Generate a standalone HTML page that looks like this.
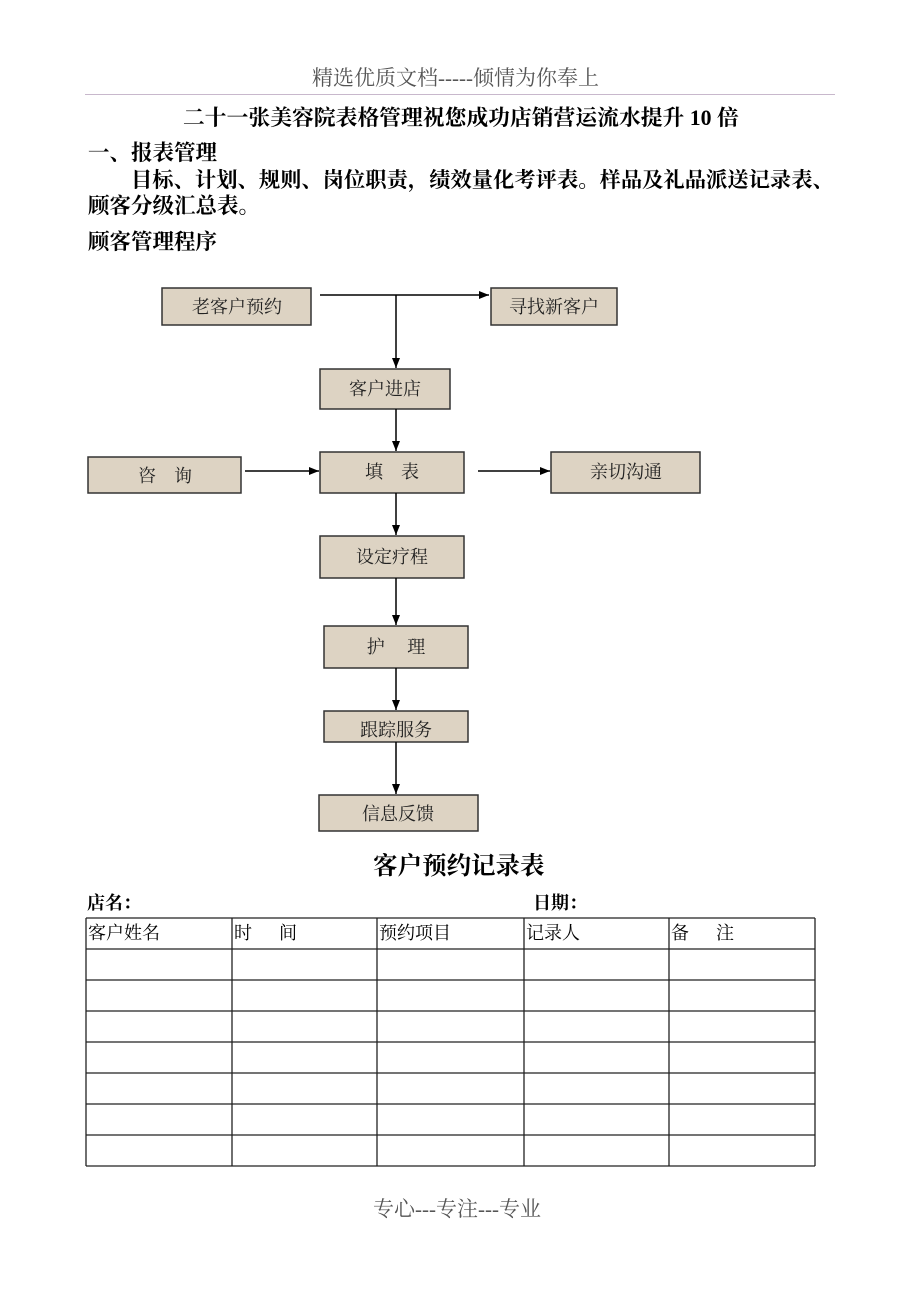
<!DOCTYPE html>
<html><head><meta charset="utf-8"><style>
body{margin:0;width:920px;height:1302px;background:#fff;position:relative;overflow:hidden;font-family:"Liberation Serif","Noto Serif CJK SC",serif;}
.t{position:absolute;white-space:nowrap;line-height:1;color:#000;}
.b{font-weight:bold;}
svg{position:absolute;left:0;top:0;}
</style></head><body>
<div class="t" style="left:312px;top:68px;font-size:21px;color:#555;">精选优质文档-----倾情为你奉上</div>
<div style="position:absolute;left:85px;top:94px;width:750px;height:1px;background:#c8b8cc;"></div>
<div class="t b" style="left:183px;top:108px;font-size:21.8px;">二十一张美容院表格管理祝您成功店销营运流水提升 10 倍</div>
<div class="t b" style="left:88px;top:143px;font-size:21.5px;">一、报表管理</div>
<div class="t b" style="left:131px;top:170px;font-size:21.3px;">目标、计划、规则、岗位职责，绩效量化考评表。样品及礼品派送记录表、</div>
<div class="t b" style="left:88px;top:196px;font-size:21.5px;">顾客分级汇总表。</div>
<div class="t b" style="left:88px;top:232px;font-size:21.5px;">顾客管理程序</div>

<svg width="920" height="1302" xmlns="http://www.w3.org/2000/svg" font-family="Liberation Serif, Noto Serif CJK SC, serif" font-size="18">
<defs><marker id="a" markerWidth="10" markerHeight="8" refX="10" refY="4" orient="auto" markerUnits="userSpaceOnUse"><path d="M0,0L10,4L0,8z" fill="#000"/></marker></defs>
<g fill="#ddd3c3" stroke="#333" stroke-width="1.5">
<rect x="162" y="288" width="149" height="37"/>
<rect x="491" y="288" width="126" height="37"/>
<rect x="320" y="369" width="130" height="40"/>
<rect x="88" y="457" width="153" height="36"/>
<rect x="320" y="452" width="144" height="41"/>
<rect x="551" y="452" width="149" height="41"/>
<rect x="320" y="536" width="144" height="42"/>
<rect x="324" y="626" width="144" height="42"/>
<rect x="324" y="711" width="144" height="31"/>
<rect x="319" y="795" width="159" height="36"/>
</g>
<g stroke="#000" stroke-width="1.5" fill="none">
<line x1="320" y1="295" x2="489" y2="295" marker-end="url(#a)"/>
<line x1="396" y1="295" x2="396" y2="368" marker-end="url(#a)"/>
<line x1="396" y1="409" x2="396" y2="451" marker-end="url(#a)"/>
<line x1="245" y1="471" x2="319" y2="471" marker-end="url(#a)"/>
<line x1="478" y1="471" x2="550" y2="471" marker-end="url(#a)"/>
<line x1="396" y1="493" x2="396" y2="535" marker-end="url(#a)"/>
<line x1="396" y1="578" x2="396" y2="625" marker-end="url(#a)"/>
<line x1="396" y1="668" x2="396" y2="710" marker-end="url(#a)"/>
<line x1="396" y1="742" x2="396" y2="794" marker-end="url(#a)"/>
</g>
<g fill="#222" text-anchor="middle">
<text x="237" y="313">老客户预约</text>
<text x="554" y="313">寻找新客户</text>
<text x="385" y="395">客户进店</text>
<text x="165" y="482" xml:space="preserve">咨    询</text>
<text x="392" y="478" xml:space="preserve">填    表</text>
<text x="626" y="478">亲切沟通</text>
<text x="392" y="563">设定疗程</text>
<text x="396" y="653" xml:space="preserve">护     理</text>
<text x="396" y="736">跟踪服务</text>
<text x="398" y="820">信息反馈</text>
</g>
<g stroke="#222" stroke-width="1.3">
<line x1="86" y1="918" x2="815" y2="918"/>
<line x1="86" y1="949" x2="815" y2="949"/>
<line x1="86" y1="980" x2="815" y2="980"/>
<line x1="86" y1="1011" x2="815" y2="1011"/>
<line x1="86" y1="1042" x2="815" y2="1042"/>
<line x1="86" y1="1073" x2="815" y2="1073"/>
<line x1="86" y1="1104" x2="815" y2="1104"/>
<line x1="86" y1="1135" x2="815" y2="1135"/>
<line x1="86" y1="1166" x2="815" y2="1166"/>
<line x1="86" y1="918" x2="86" y2="1166"/>
<line x1="232" y1="918" x2="232" y2="1166"/>
<line x1="377" y1="918" x2="377" y2="1166"/>
<line x1="524" y1="918" x2="524" y2="1166"/>
<line x1="669" y1="918" x2="669" y2="1166"/>
<line x1="815" y1="918" x2="815" y2="1166"/>
</g>
<g fill="#000" font-size="18">
<text x="88" y="939">客户姓名</text>
<text x="234" y="939" xml:space="preserve">时      间</text>
<text x="379" y="939">预约项目</text>
<text x="526" y="939">记录人</text>
<text x="671" y="939" xml:space="preserve">备      注</text>
</g>
</svg>
<div class="t b" style="left:373px;top:855px;font-size:24.5px;">客户预约记录表</div>
<div class="t b" style="left:87px;top:894px;font-size:18px;">店名：</div>
<div class="t b" style="left:533px;top:894px;font-size:18px;">日期：</div>
<div class="t" style="left:373px;top:1199px;font-size:21px;color:#555;">专心---专注---专业</div>
</body></html>
